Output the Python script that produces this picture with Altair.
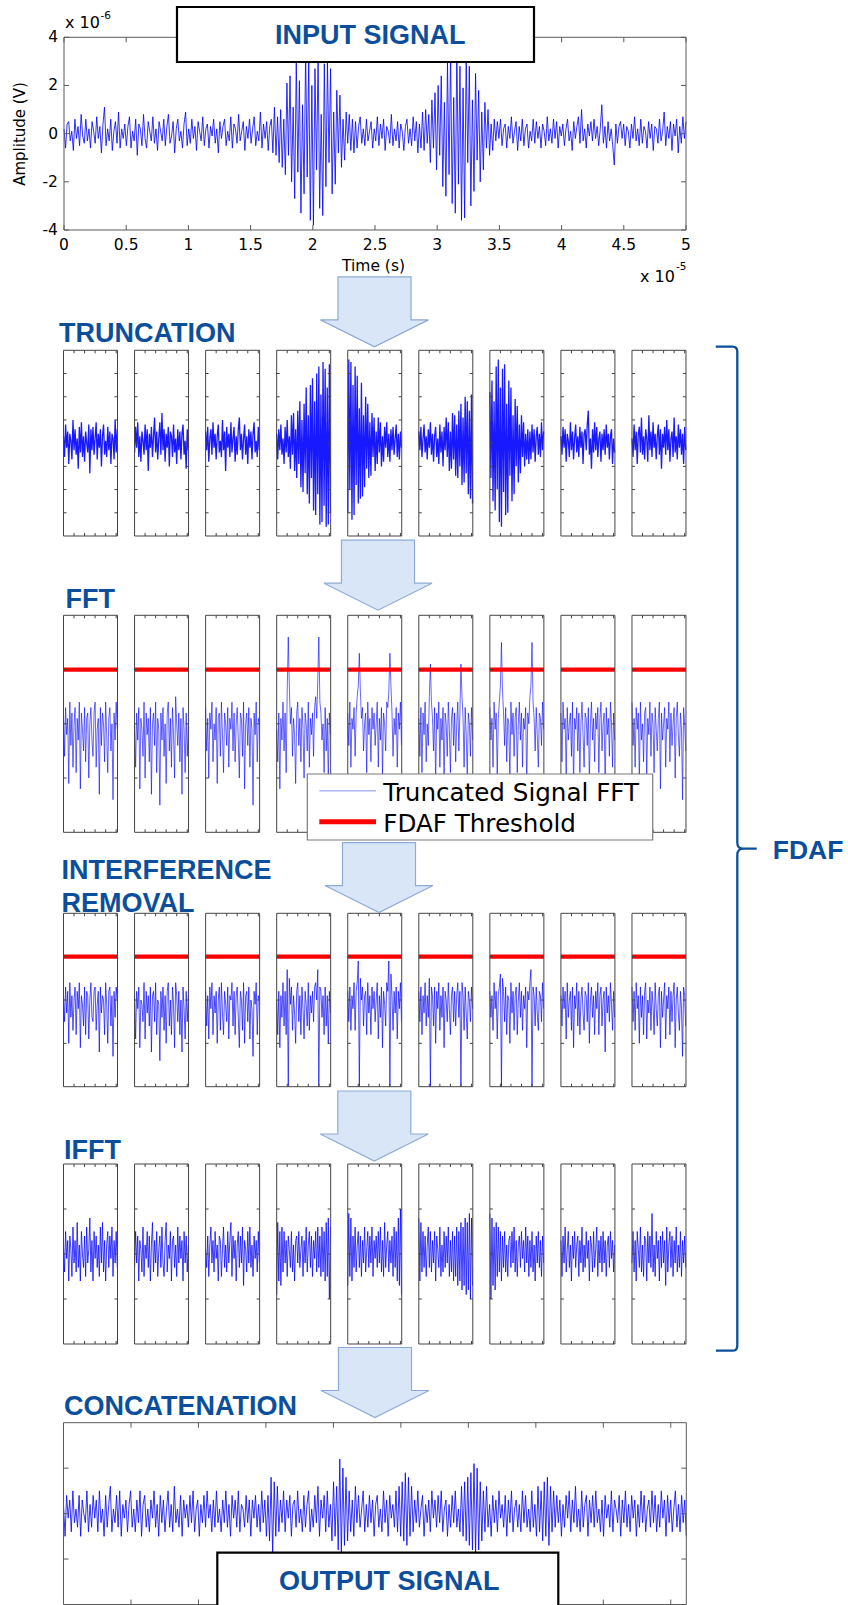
import altair as alt
import pandas as pd

# All amplitudes below are stored in tenths of the plotted unit.

# Input signal, x 1e-6 V, sampled over 0..5 x 1e-5 s
INPUT_SIGNAL = [
    2, -6, 4, 5, -3, 1, -7, 6, -2, 3, -5, 8, -1, -4, 6, -3, 2, -6, 5, 1,
    -4, 7, -2, 3, -8, 4, 11, -5, 2, -3, 6, -7, 1, 5, -4, 9, -6, 2, -2, 4,
    -5, 3, 7, -6, 1, -3, 6, -9, 4, 2, -5, 8, -2, -6, 5, 1, -3, 7, -4, 2,
    -7, 5, 1, -3, 6, -5, 3, 8, -4, -1, 5, -8, 2, 6, -3, 1, -6, 4, 9, -5,
    2, -4, 6, -2, 3, -7, 5, 1, -3, 7, -5, 2, 4, -6, 3, -1, 6, -4, 2, -8,
    5, -2, 3, 6, -5, 1, -3, 7, -6, 4, 2, -4, 8, -3, 1, 5, -7, 3, -2, 6,
    -4, 2, 7, -5, 1, -3, 9, -6, 4, -2, 5, -7, 3, 6, -8, 11, -9, 7, -12, 10,
    -14, 6, -17, 21, -9, 24, -20, 11, -27, 30, -16, 22, -33, 12, -25, 35, -18, 31, -36, 20,
    -38, 27, -15, 33, -31, 8, -34, 29, -22, 30, -12, 27, -25, 9, -21, 18, -8, 16, -14, 6,
    -11, 9, -4, 8, -7, 6, -8, 5, -6, 3, 7, -4, 2, -5, 6, -3, 1, 5, -6, 2,
    -3, 7, -5, 4, -2, 6, -7, 3, 1, -4, 8, -5, 2, -3, 5, -6, 4, 1, -7, 3,
    6, -4, 2, -5, 7, -3, 5, -8, 4, -6, 9, -7, 10, -4, 8, -12, 14, -6, 17, -15,
    20, -9, 24, -22, 13, -26, 30, -17, 34, -29, 15, -33, 36, -21, 28, -36, 19, -35, 33, -12,
    28, -30, 14, -24, 25, -11, 18, -20, 9, -15, 13, -6, 10, -9, 4, -7, 6, -3, 5, -2,
    6, -5, 2, 4, -6, 3, -2, 7, -4, 1, 5, -7, 3, -3, 6, -5, 2, 4, -6, 1,
    -3, 6, -4, 5, -2, 3, -6, 4, 1, -5, 7, -3, 2, -4, 6, -2, 5, -6, 3, -1,
    4, -5, 2, 6, -3, 1, -7, 5, -2, 3, 7, -4, 10, -3, 2, -6, 4, -1, 5, -3,
    6, -2, 3, -5, 2, 12, -4, 3, -6, 5, -3, 2, -5, -13, 4, -4, 3, 5, -2, 4,
    -5, 3, 1, -6, 4, -2, 7, -3, 2, -5, 6, -4, 3, 1, -6, 5, -2, 4, -7, 3,
    2, -4, 6, -3, 1, 9, -5, 3, -2, 5, -7, 4, -1, 6, -8, 3, -4, 7, -2, 5,
]

# Nine truncated windows of the input
TRUNCATED_SEGMENTS = [
    [3, -6, 8, -2, 5, -9, 4, 1, -7, 10, -3, 6, -5, 2, -11, 7, -4, 9, -6, 3, -8, 5, 0, -4, 8, -13,
     6, -3, 7, -5, 2, 9, -7, 4, -2, 6, -10, 3, 8, -5, 1, -6, 7, -3, 5, -9, 4, 2, -7, 10, -4, 6],
    [-4, 7, -2, 9, -6, 3, -8, 5, 1, -5, 8, -3, 6, -12, 4, -2, 7, -6, 3, 11, -4, 5, -7, 2, 9, -5,
     13, -3, 6, -8, 4, -2, 7, -10, 5, 3, -6, 8, -4, 2, -9, 6, -3, 5, -7, 4, 8, -5, 1, -11, 6, -3],
    [5, -3, 7, -8, 2, 6, -5, 9, -2, 4, -7, 3, 8, -4, 1, -6, 10, -3, 5, -12, 7, -2, 4, -6, 9, -4,
     2, 7, -8, 3, -5, 6, 11, -3, 4, -7, 2, 8, -5, 3, -9, 6, -2, 5, -7, 4, 9, -4, 1, -6, 7, -3],
    [4, -7, 6, -3, 8, -5, 2, -9, 7, -4, 10, -6, 3, -11, 12, -5, 13, -12, 6, -15, 14, -9, 18, -19, 10, -21,
     17, -13, 24, -22, 12, -26, 25, -15, 28, -29, 18, -31, 30, -22, 33, -35, 21, -34, 35, -27, 32, -36, 24, -35, 34, -30],
    [-30, 36, -20, 35, -33, 25, -31, 33, -18, 29, -26, 15, -24, 26, -23, 12, -19, 20, -11, 17, -15, 9, -14, 13, -6, 11,
     -12, 5, -9, 11, -4, 9, -10, 3, -8, 7, -2, 9, -6, 4, -8, 6, -3, 7, -5, 2, 8, -6, 4, -7, 5, -2],
    [5, -3, 7, -6, 2, 8, -4, 3, -7, 6, -2, 9, -5, 4, -8, 3, 7, -6, 2, -9, 8, -4, 5, -10, 7, -3,
     11, -6, 9, -12, 5, -11, 13, -7, 12, -14, 8, -15, 14, -10, 17, -18, 11, -17, 20, -13, 18, -22, 14, -24, 21, -26],
    [22, -15, 27, -25, 18, -29, 33, -20, 36, -34, 24, -36, 32, -21, 34, -31, 17, -30, 27, -14, 24, -25, 12, -22, 19, -10,
     16, -17, 8, -13, 12, -6, 9, -10, 4, -7, 6, -9, 5, -7, 8, -4, 6, -8, 3, 7, -5, 4, -6, 9, -3, 5],
    [3, -5, 7, -2, 6, -8, 4, 1, -6, 9, -3, 5, -7, 2, 8, -4, 3, -6, 7, -2, 5, -9, 4, 6, -3, 8,
     14, -5, 2, -11, 6, -4, 9, -3, 7, -6, 2, 5, -8, 4, -3, 6, -5, 8, -2, 4, -7, 3, 6, -9, 2, -4],
    [2, -6, 8, -3, 5, -9, 4, 7, -4, 11, -5, 3, -7, 6, 2, -8, 12, -3, 5, -6, 9, -2, 4, -7, 3, 8,
     -5, 6, -11, 4, -2, 7, -5, 10, -3, 6, -8, 2, 5, -6, 11, -4, 3, -7, 8, -2, 6, -5, 4, -9, 7, -3],
]

# Spectrum of every window
SEGMENT_SPECTRA = [
    [22, 14, 23, 18, 21, 9, 24, 16, 22, 12, 20, 23, 11, 21, 17, 24, 8, 22, 19, 15, 23, 13, 21, 22, 10, 20,
     23, 17, 14, 22, 24, 12, 19, 21, 7, 23, 16, 22, 20, 13, 24, 18, 11, 21, 23, 15, 20, 6, 22, 17, 24, 19],
    [20, 12, 22, 17, 23, 8, 21, 19, 14, 24, 10, 22, 18, 21, 13, 23, 7, 20, 22, 16, 24, 11, 21, 19, 5, 22,
     17, 23, 14, 20, 9, 22, 24, 15, 21, 12, 23, 18, 10, 25, 20, 16, 22, 13, 21, 7, 23, 19, 11, 22, 14, 20],
    [23, 15, 21, 10, 22, 19, 24, 13, 20, 17, 23, 9, 21, 22, 14, 24, 18, 11, 22, 20, 16, 23, 12, 21, 19, 24,
     15, 22, 13, 20, 23, 17, 10, 22, 21, 14, 24, 8, 20, 22, 16, 23, 12, 21, 19, 5, 22, 18, 24, 13, 21, 20],
    [19, 13, 22, 8, 21, 17, 24, 15, 22, 11, 26, 36, 27, 20, 23, 14, 21, 18, 9, 22, 24, 16, 21, 13, 23, 19,
     10, 22, 20, 15, 24, 12, 21, 18, 22, 14, 23, 25, 21, 28, 36, 24, 22, 17, 20, 11, 23, 15, 21, 9, 22, 18],
    [22, 16, 24, 12, 21, 19, 23, 14, 22, 25, 27, 33, 26, 21, 23, 15, 20, 22, 11, 24, 18, 21, 13, 23, 19, 22,
     16, 20, 24, 12, 21, 17, 23, 10, 22, 20, 15, 24, 23, 26, 33, 27, 22, 14, 21, 18, 23, 12, 22, 19, 24, 16],
    [21, 14, 23, 11, 22, 18, 24, 13, 20, 16, 25, 31, 24, 21, 15, 23, 9, 22, 19, 24, 12, 21, 17, 23, 8, 22,
     20, 14, 24, 19, 11, 21, 23, 16, 22, 13, 20, 24, 15, 22, 31, 25, 21, 12, 23, 18, 10, 22, 20, 14, 23, 17],
    [23, 17, 21, 12, 24, 19, 22, 10, 21, 24, 27, 35, 26, 22, 16, 23, 13, 21, 20, 9, 24, 18, 22, 14, 21, 23,
     11, 20, 24, 17, 22, 12, 21, 19, 23, 8, 22, 20, 25, 27, 35, 24, 21, 15, 23, 18, 12, 22, 21, 16, 24, 19],
    [22, 13, 24, 19, 21, 10, 23, 17, 20, 22, 14, 24, 8, 21, 19, 23, 15, 22, 11, 20, 24, 18, 12, 22, 21, 16,
     23, 9, 20, 24, 17, 21, 13, 22, 19, 23, 11, 21, 24, 15, 20, 22, 7, 23, 18, 21, 14, 24, 20, 12, 22, 17],
    [24, 16, 21, 12, 23, 19, 22, 9, 24, 17, 20, 13, 22, 23, 10, 21, 18, 24, 14, 22, 20, 11, 23, 19, 15, 21,
     24, 8, 22, 17, 20, 23, 12, 21, 19, 24, 13, 22, 16, 20, 23, 10, 21, 24, 18, 14, 22, 19, 6, 23, 20, 15],
]

# Spectra after the bins above the threshold were removed
CLEANED_SPECTRA = [
    [21, 15, 23, 17, 22, 10, 24, 16, 21, 13, 20, 23, 12, 22, 18, 24, 9, 21, 19, 14, 23, 12, 22, 21, 11, 20,
     24, 16, 15, 22, 23, 13, 19, 22, 8, 23, 17, 21, 20, 12, 24, 19, 10, 22, 23, 14, 21, 7, 22, 16, 23, 20],
    [21, 11, 22, 18, 23, 9, 20, 19, 15, 24, 11, 22, 17, 21, 14, 23, 8, 21, 22, 15, 24, 12, 20, 19, 6, 22,
     16, 23, 13, 21, 10, 22, 24, 14, 20, 12, 23, 19, 9, 24, 21, 15, 22, 12, 20, 8, 23, 18, 11, 22, 15, 21],
    [22, 14, 21, 11, 23, 18, 24, 12, 21, 17, 22, 10, 20, 23, 13, 24, 17, 12, 22, 19, 15, 23, 11, 21, 20, 24,
     14, 22, 12, 21, 23, 16, 9, 22, 20, 13, 24, 10, 21, 22, 15, 23, 11, 20, 18, 7, 22, 19, 24, 12, 21, 20],
    [20, 12, 22, 9, 21, 16, 24, 14, 22, 12, 27, 0, 25, 19, 23, 13, 21, 17, 10, 22, 24, 15, 21, 12, 23, 18,
     11, 22, 19, 14, 24, 13, 21, 17, 22, 15, 23, 24, 20, 27, 0, 23, 22, 16, 21, 12, 23, 14, 21, 10, 22, 17],
    [22, 15, 23, 13, 21, 18, 24, 13, 22, 24, 29, 0, 25, 20, 23, 14, 21, 22, 12, 24, 17, 21, 12, 23, 18, 22,
     15, 20, 24, 11, 21, 16, 23, 9, 22, 19, 14, 24, 22, 29, 0, 26, 21, 13, 22, 17, 23, 11, 22, 18, 24, 15],
    [22, 15, 23, 12, 21, 17, 24, 14, 21, 16, 25, 0, 23, 21, 14, 23, 10, 22, 18, 24, 13, 21, 16, 23, 9, 22,
     20, 15, 24, 18, 12, 21, 23, 15, 22, 14, 21, 24, 16, 22, 0, 24, 21, 13, 23, 17, 11, 22, 20, 15, 23, 18],
    [22, 16, 21, 13, 24, 18, 22, 11, 21, 23, 26, 0, 25, 22, 15, 23, 12, 21, 20, 10, 24, 17, 22, 13, 21, 23,
     12, 20, 24, 16, 22, 13, 21, 18, 23, 9, 22, 20, 24, 27, 0, 23, 21, 14, 23, 17, 13, 22, 21, 15, 24, 18],
    [21, 14, 23, 18, 22, 11, 24, 16, 20, 22, 13, 23, 9, 21, 18, 24, 14, 22, 12, 20, 23, 17, 13, 22, 21, 15,
     24, 10, 20, 23, 16, 21, 12, 22, 18, 24, 12, 21, 23, 14, 20, 22, 8, 23, 17, 21, 15, 24, 19, 13, 22, 16],
    [23, 15, 22, 13, 24, 18, 21, 10, 23, 16, 21, 12, 22, 24, 11, 20, 17, 23, 13, 22, 19, 12, 24, 18, 14, 21,
     23, 9, 22, 16, 20, 24, 11, 21, 18, 23, 12, 22, 15, 21, 24, 9, 20, 23, 17, 13, 22, 18, 7, 23, 21, 14],
]

# Windows brought back to the time domain
RESTORED_SEGMENTS = [
    [2, -4, 5, -1, 3, -6, 4, 1, -5, 6, -2, 3, -4, 7, -3, 2, -6, 5, 0, -3, 4, -5, 6, -2, 1, 8,
     -4, 3, -6, 5, -1, 4, -3, 2, -5, 6, -2, 7, -4, 3, -6, 2, 5, -3, 4, -1, 6, -5, 3, -2, 5, -3],
    [-3, 5, -2, 4, -6, 3, 1, -4, 6, -5, 2, -1, 5, -3, 4, -6, 2, 7, -4, 3, -2, 5, -5, 1, 4, -3,
     6, -2, -5, 3, 7, -4, 2, -1, 5, -6, 3, 4, -3, 2, -5, 6, -2, 4, -1, 3, -6, 5, -2, 4, -4, 2],
    [1, -3, 4, -5, 2, 6, -2, 3, -4, 5, -1, 2, -6, 4, 3, -5, 1, 6, -3, 2, -4, 5, -2, 3, 7, -5,
     4, -1, 3, -6, 2, 5, -3, 4, -2, 6, -7, 3, 1, -4, 5, -2, 6, -3, 2, -5, 4, -1, 3, -4, 5, -2],
    [-9, 7, -6, 5, -7, 6, -4, 5, -2, 3, -5, 4, 1, -3, 5, -4, 2, -6, 3, 4, -2, 5, -3, 1, 4, -5,
     3, -2, 6, -4, 2, 5, -3, 4, -5, 3, -1, 5, -4, 6, -3, 4, -5, 6, -4, 5, -6, 7, -5, 8, -10, 6],
    [-7, 9, -5, 8, -6, 4, -3, 6, -4, 2, 5, -3, 4, -5, 3, -2, 6, -4, 1, 5, -3, 4, -2, 6, -5, 3,
     -1, 4, -3, 5, -2, 6, -4, 3, -5, 7, -3, 2, 5, -4, 3, -2, 4, -5, 6, -3, 5, -6, 8, -7, 10, -9],
    [8, -6, 7, -4, 5, -3, 4, -5, 2, 6, -3, 5, -4, 3, -2, 5, -6, 4, 1, -3, 6, -5, 2, -4, 5, -3,
     4, -2, 6, -5, 3, -4, 5, -6, 4, -5, 6, -7, 5, -6, 7, -8, 6, -7, 8, -9, 7, -8, 9, -10, 8, -7],
    [9, -10, 8, -7, 6, -8, 7, -5, 6, -4, 5, -6, 4, -3, 5, -4, 2, -5, 3, 4, -3, 5, -2, 6, -4, 3,
     -5, 2, 4, -3, 5, -1, 3, -4, 6, -2, 4, -5, 3, -3, 5, -4, 2, -6, 4, -2, 5, -3, 3, -5, 4, -2],
    [3, -5, 4, -2, 6, -4, 1, 5, -3, 2, -6, 4, -1, 5, -3, 2, 4, -5, 3, -2, 6, -4, 2, -3, 5, -1,
     3, -6, 4, 2, -4, 5, -3, 1, 6, -5, 3, -2, 4, -4, 5, -2, 3, -5, 2, 4, -3, 5, -1, 3, -4, 2],
    [-2, 5, -4, 3, -6, 5, 1, -3, 6, -4, 2, -5, 4, 3, -6, 5, -2, 4, -3, 9, -4, 2, -5, 5, -1, 3,
     -6, 4, -3, 5, -2, 3, -7, 6, -4, 2, 5, -3, 4, -5, 3, -2, 6, -4, 2, -3, 5, -5, 3, -2, 4, -3],
]

# Concatenated output
OUTPUT_SIGNAL = [
    2, -5, 4, -1, 3, -4, 5, -2, 1, -3, 4, -5, 3, 0, -2, 5, -4, 2, -3, 4,
    -1, 3, -4, 5, -2, 1, -5, 4, -3, 2, 6, -4, 1, -2, 4, -3, 5, -5, 2, -1,
    3, -4, 2, 5, -3, 1, -4, 3, -2, 5, -5, 2, 4, -3, 1, -4, 3, -1, 5, -3,
    2, -5, 4, -2, 3, -4, 1, 5, -3, 2, -4, 6, -2, 1, -3, 4, -5, 3, -1, 2,
    -3, 4, -2, 5, -4, 1, 3, -5, 2, -2, 4, -3, 5, -1, 2, -4, 3, -3, 5, -2,
    1, -4, 3, -2, 5, -3, 2, -5, 4, -1, 3, -3, 5, -4, 2, 1, -3, 4, -2, 3,
    -5, 3, -1, 4, -3, 2, -4, 5, -2, 3, -5, 4, -6, 8, -9, 7, -5, 6, -4, 3,
    -2, 5, -4, 3, -1, 4, -5, 2, 3, -3, 5, -2, 1, -4, 4, -3, 2, 5, -4, 1,
    -3, 4, -2, 6, -5, 3, -1, 4, -4, 5, -3, 2, -6, 7, -5, 6, -8, 12, -9, 10,
    -7, 8, -6, 5, -4, 3, -5, 6, -2, 4, -3, 1, 5, -4, 2, -3, 4, -2, 3, -5,
    2, 4, -3, 1, -4, 5, -2, 3, -5, 4, -1, 2, -3, 5, -4, 6, -5, 7, -6, 9,
    -7, 8, -5, 6, -4, 3, -2, 5, -3, 1, 4, -5, 2, -2, 3, -4, 5, -1, 3, -3,
    4, -2, 5, -4, 1, 3, -5, 2, -3, 4, -2, 5, -3, 1, -4, 6, -5, 7, -6, 8,
    -7, 9, -8, 11, -9, 10, -8, 7, -6, 5, -4, 6, -3, 2, -5, 4, -2, 3, -4, 5,
    -1, 2, -3, 4, -5, 3, -2, 5, -4, 1, 3, -3, 2, -4, 5, -2, 4, -3, 1, -4,
    5, -3, 2, -5, 6, -4, 5, -6, 7, -5, 8, -7, 6, -4, 5, -3, 4, -2, 3, -5,
    2, -3, 4, -1, 5, -4, 3, -2, 6, -3, 1, -4, 5, -3, 2, 4, -5, 3, -2, 4,
    -3, 5, -2, 1, -4, 3, -5, 4, -1, 2, -3, 5, -4, 3, 1, -2, 4, -5, 3, -2,
    5, -3, 2, -4, 4, -1, 3, -5, 2, -3, 5, -2, 4, -4, 1, 3, -3, 5, -2, 4,
    -4, 2, -3, 5, -1, 3, -5, 4, -2, 3, -4, 1, 5, -3, 2, -4, 4, -2, 3, -5,
]

THRESHOLD = 3.0

# Axis ticks and labels
TOP_X_TICKS = [0, 0.5, 1, 1.5, 2, 2.5, 3, 3.5, 4, 4.5, 5]
TOP_X_LABELS = ["0", "0.5", "1", "1.5", "2", "2.5", "3", "3.5", "4", "4.5", "5"]
TOP_Y_TICKS = [-4, -2, 0, 2, 4]
TOP_Y_LABELS = ["-4", "-2", "0", "2", "4"]
SEG_X_TICKS = [40, 80, 120, 160, 200]
TRUNC_Y_TICKS = [-3, -2, -1, 0, 1, 2, 3]
SPEC_Y_TICKS = [1, 2, 3]
REST_Y_TICKS = [-1, 0, 1]
OUT_X_TICKS = [200, 400, 600, 800, 1000, 1200, 1400, 1600, 1800]
OUT_Y_TICKS = [-1, 0, 1]

STAGES = ["TRUNCATION", "FFT", "INTERFERENCE", "REMOVAL", "IFFT", "CONCATENATION"]
LEGEND_LABELS = ["Truncated Signal FFT", "FDAF Threshold"]

# ---------------------------------------------------------------- layout
W, H = 848, 1605
SIG = "#0000ff"
HEAD = "#0b4f9c"
PANEL_FRAME = "#444444"
PLOT_FRAME = "#5a5a5a"
MFONT = "DejaVu Sans"
HFONT = "Liberation Sans"

SEG_SPAN = 204
OUT_SPAN = 1846
PANEL_X0, PANEL_STEP, PANEL_W = 63.5, 71.06, 54

ONE = pd.DataFrame({"k": [0]})


def series(values, span):
    n = len(values)
    return pd.DataFrame({"x": [i * span / (n - 1) for i in range(n)],
                         "y": [v / 10 for v in values]})


def framed(df, xdom, ydom, xr, yr, xticks, yticks, tick_len, frame_color,
           threshold=None, width=1.0, opacity=0.85, extra=()):
    xs = alt.Scale(domain=xdom, range=[xr[0], xr[1]], nice=False, zero=False)
    ys = alt.Scale(domain=ydom, range=[yr[1], yr[0]], nice=False, zero=False)
    layers = [
        alt.Chart(df).mark_line(color=SIG, strokeWidth=width, opacity=opacity).encode(
            x=alt.X("x:Q", scale=xs, axis=None),
            y=alt.Y("y:Q", scale=ys, axis=None),
        )
    ]
    if threshold is not None:
        layers.append(
            alt.Chart(ONE).mark_rule(color="#ff0000", strokeWidth=4.3).encode(
                x=alt.XDatum(xdom[0], axis=None), x2=alt.X2Datum(xdom[1]),
                y=alt.YDatum(threshold, axis=None),
            )
        )
    yt = pd.DataFrame({"v": yticks})
    xt = pd.DataFrame({"v": xticks})
    tick = dict(color=frame_color, strokeWidth=1)
    layers += [
        alt.Chart(yt).mark_rule(x2Offset=tick_len, **tick).encode(
            y=alt.Y("v:Q", axis=None),
            x=alt.XDatum(xdom[0], axis=None), x2=alt.X2Datum(xdom[0])),
        alt.Chart(yt).mark_rule(xOffset=-tick_len, **tick).encode(
            y=alt.Y("v:Q", axis=None),
            x=alt.XDatum(xdom[1], axis=None), x2=alt.X2Datum(xdom[1])),
        alt.Chart(xt).mark_rule(y2Offset=tick_len, **tick).encode(
            x=alt.X("v:Q", axis=None),
            y=alt.YDatum(ydom[1], axis=None), y2=alt.Y2Datum(ydom[1])),
        alt.Chart(xt).mark_rule(yOffset=-tick_len, **tick).encode(
            x=alt.X("v:Q", axis=None),
            y=alt.YDatum(ydom[0], axis=None), y2=alt.Y2Datum(ydom[0])),
        alt.Chart(ONE).mark_rect(fill="white", fillOpacity=0, stroke=frame_color, strokeWidth=1).encode(
            x=alt.XDatum(xdom[0], axis=None), x2=alt.X2Datum(xdom[1]),
            y=alt.YDatum(ydom[0], axis=None), y2=alt.Y2Datum(ydom[1])),
    ]
    layers += list(extra)
    return alt.layer(*layers)


def text(txt, x, y, size, font=HFONT, weight="bold", color=HEAD, align="left",
         baseline="alphabetic", angle=0):
    mk = dict(text=txt, font=font, fontSize=size, fontWeight=weight, color=color,
              align=align, baseline=baseline)
    if angle:
        mk["angle"] = angle
    return alt.Chart(ONE).mark_text(**mk).encode(x=alt.value(x), y=alt.value(y))


def box(x0, x1, y0, y1, stroke="black", width=2.2):
    return alt.Chart(ONE).mark_rect(fill="white", stroke=stroke, strokeWidth=width).encode(
        x=alt.value(x0), x2=alt.value(x1), y=alt.value(y0), y2=alt.value(y1))


ARROW = ("M -0.664 -0.636 L 0.664 -0.636 L 0.664 0.145 L 0.982 0.145 "
         "L 0 0.636 L -0.982 0.145 L -0.664 0.145 Z")


def arrow(cx, cy):
    return alt.Chart(ONE).mark_point(
        shape=ARROW, size=12100, filled=True, fill="#d9e6f8", stroke="#8eaad6",
        strokeWidth=1.2, opacity=1,
    ).encode(x=alt.value(cx), y=alt.value(cy))


BRACKET = ("M -0.043 -1 L -0.01 -1 Q 0 -1 0 -0.99 L 0 -0.012 Q 0 0 0.012 0 L 0.0387 0 "
           "M 0.012 0 Q 0 0 0 0.012 L 0 0.99 Q 0 1 -0.01 1 L -0.0424 1")

layers = []

# ---- input signal plot, with its tick labels drawn through its own scales
tick_font = dict(font=MFONT, fontSize=15.5, color="black", baseline="middle")
x_labels = alt.Chart(pd.DataFrame({"v": TOP_X_TICKS, "t": TOP_X_LABELS})).mark_text(
    align="center", **tick_font).encode(
    x=alt.X("v:Q", axis=None), y=alt.value(244.5), text="t:N")
y_labels = alt.Chart(pd.DataFrame({"v": TOP_Y_TICKS, "t": TOP_Y_LABELS})).mark_text(
    align="right", **tick_font).encode(
    y=alt.Y("v:Q", axis=None), x=alt.value(58), text="t:N")
layers.append(framed(
    series(INPUT_SIGNAL, 5), [0, 5], [-4, 4], (64, 686), (37.3, 230),
    TOP_X_TICKS, TOP_Y_TICKS, 5, PLOT_FRAME, width=0.95, extra=(x_labels, y_labels),
))

# ---- rows of nine panels: data, vertical extent, domain, ticks, threshold, line weight
rows = [
    (TRUNCATED_SEGMENTS, (350.3, 536.0), [-4, 4], TRUNC_Y_TICKS, None, 1.3, 0.9),
    (SEGMENT_SPECTRA, (615.3, 832.3), [0, 4], SPEC_Y_TICKS, THRESHOLD, 0.8, 0.75),
    (CLEANED_SPECTRA, (913.3, 1086.7), [0, 4], SPEC_Y_TICKS, THRESHOLD, 0.85, 0.8),
    (RESTORED_SEGMENTS, (1164.0, 1344.0), [-2, 2], REST_Y_TICKS, None, 0.95, 0.8),
]
for data, yr, ydom, yticks, thr, lw, op in rows:
    for i, seg in enumerate(data):
        x0 = PANEL_X0 + PANEL_STEP * i
        layers.append(framed(
            series(seg, SEG_SPAN), [0, 205], ydom, (x0, x0 + PANEL_W), yr,
            SEG_X_TICKS, yticks, 3, PANEL_FRAME, threshold=thr, width=lw, opacity=op,
        ))

# ---- output plot
layers.append(framed(
    series(OUTPUT_SIGNAL, OUT_SPAN), [0, OUT_SPAN], [-2, 2], (63.5, 686.3), (1422.7, 1604.5),
    OUT_X_TICKS, OUT_Y_TICKS, 5, PLOT_FRAME, width=0.95,
))

# ---- legend of the spectrum row
layers += [
    box(307.3, 652.7, 774, 840, stroke="#7a7a7a", width=1.2),
    alt.Chart(ONE).mark_rule(color="#aab4f4", strokeWidth=1.6).encode(
        x=alt.value(319.3), x2=alt.value(376), y=alt.value(790.7)),
    alt.Chart(ONE).mark_rule(color="#ff0000", strokeWidth=5).encode(
        x=alt.value(319.3), x2=alt.value(376), y=alt.value(821.7)),
    text(LEGEND_LABELS[0], 383.3, 800.7, 24.6, font=MFONT, weight="normal", color="black"),
    text(LEGEND_LABELS[1], 383.3, 831.7, 24.6, font=MFONT, weight="normal", color="black"),
]

# ---- axis annotations of the input plot
layers += [
    text("x 10", 65, 28.3, 16, font=MFONT, weight="normal", color="black"),
    text("-6", 100.5, 18.5, 10.5, font=MFONT, weight="normal", color="black"),
    text("Amplitude (V)", 20, 134, 15, font=MFONT, weight="normal", color="black",
         align="center", baseline="middle", angle=270),
    text("Time (s)", 373.5, 265.5, 15.5, font=MFONT, weight="normal", color="black",
         align="center", baseline="middle"),
    text("x 10", 640, 281.5, 16, font=MFONT, weight="normal", color="black"),
    text("-5", 676, 269.5, 10.5, font=MFONT, weight="normal", color="black"),
]

# ---- titled boxes
layers += [
    box(177, 534, 7, 62),
    text("INPUT SIGNAL", 370.3, 43.5, 27, align="center"),
    box(217.3, 558.3, 1552.7, 1620),
    text("OUTPUT SIGNAL", 389.2, 1590, 27, align="center"),
]

# ---- stage names
layers += [
    text(STAGES[0], 59, 342, 27),
    text(STAGES[1], 65.5, 608.3, 27),
    text(STAGES[2], 61.5, 879, 27),
    text(STAGES[3], 61.5, 912.3, 27),
    text(STAGES[4], 64, 1159.3, 27),
    text(STAGES[5], 64, 1415.3, 27),
]

# ---- flow arrows
layers += [arrow(374.5, 311.9), arrow(378, 575.2), arrow(379, 877.6),
           arrow(374.3, 1126), arrow(375, 1382.5)]

# ---- bracket around the FDAF stages
layers += [
    alt.Chart(ONE).mark_point(shape=BRACKET, size=1004 ** 2, filled=False, stroke=HEAD,
                              strokeWidth=2.3, opacity=1).encode(
        x=alt.value(737.3), y=alt.value(848.7)),
    text("FDAF", 772.7, 859, 26.5),
]

chart = (
    alt.layer(*layers)
    .resolve_scale(x="independent", y="independent")
    .properties(width=W, height=H, padding=0, background="white",
                autosize=alt.AutoSizeParams(type="none"))
    .configure_view(strokeOpacity=0)
)

chart.save("out.html", embed_options={"renderer": "svg", "actions": False})
